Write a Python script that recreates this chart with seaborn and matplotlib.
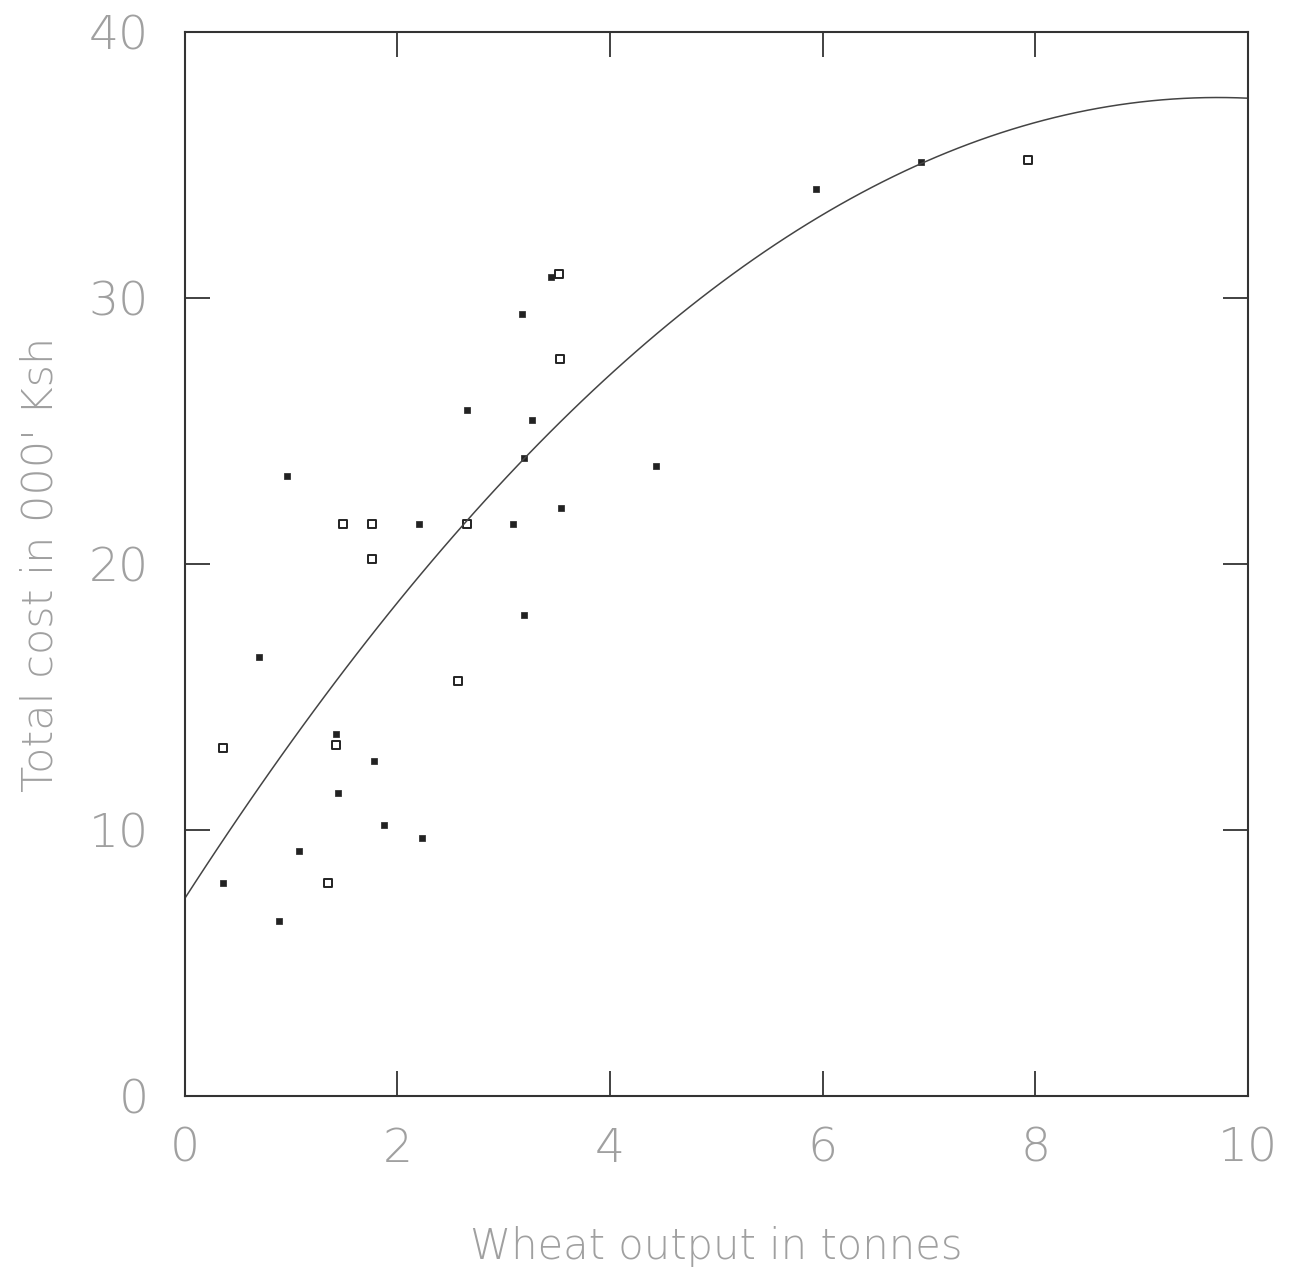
import numpy as np
import pandas as pd
import matplotlib
matplotlib.use("Agg")
import matplotlib.pyplot as plt
import seaborn as sns

open_x = [0.36, 1.35, 1.42, 1.49, 1.76, 1.76, 2.57, 2.65, 3.52, 3.53, 7.93]
open_y = [13.1, 8.0, 13.2, 21.5, 21.5, 20.2, 15.6, 21.5, 30.9, 27.7, 35.2]

filled_x = [0.36, 0.70, 0.96, 0.89, 1.07, 1.42, 1.44, 1.78, 1.87, 2.20, 2.23,
            2.65, 3.09, 3.17, 3.19, 3.19, 3.27, 3.44, 3.54, 4.43, 5.94, 6.92]
filled_y = [8.0, 16.5, 23.3, 6.6, 9.2, 13.6, 11.4, 12.6, 10.2, 21.5, 9.7,
            25.8, 21.5, 29.4, 24.0, 18.1, 25.4, 30.8, 22.1, 23.7, 34.1, 35.1]

# Fitted cost curve
curve_x = [0, 1, 2, 3, 4, 5, 6, 7, 8, 9, 10]
curve_y = [7.4, 13.3, 18.6, 23.2, 27.1, 30.4, 33.1, 35.2, 36.6, 37.4, 37.5]

x_ticks = [0, 2, 4, 6, 8, 10]
y_ticks = [0, 10, 20, 30, 40]

sns.set_theme(style="white")
plt.rcParams['font.family'] = ['DejaVu Sans']

fig = plt.figure(figsize=(12.92, 12.79), dpi=100)
ax = fig.add_axes([0.143, 0.143, 0.823, 0.832])

df_open = pd.DataFrame({"x": open_x, "y": open_y})
df_filled = pd.DataFrame({"x": filled_x, "y": filled_y})
df_curve = pd.DataFrame({"x": curve_x, "y": curve_y})

# smooth quadratic through the read curve values
sns.regplot(data=df_curve, x="x", y="y", order=2, ci=None, scatter=False,
            truncate=True, line_kws=dict(color="#444444", lw=1.1), ax=ax)

sns.scatterplot(data=df_open, x="x", y="y", marker="s", s=28,
                facecolor="white", edgecolor="#222222", linewidth=1.4, ax=ax)
sns.scatterplot(data=df_filled, x="x", y="y", marker="s", s=16,
                color="#222222", edgecolor="#222222", linewidth=0.5, ax=ax)

ax.set_xlim(0, 10)
ax.set_ylim(0, 40)
ax.set_xticks(x_ticks)
ax.set_yticks(y_ticks)
ax.set_xticklabels([str(t) for t in x_ticks])
ax.set_yticklabels([str(t) for t in y_ticks])

for s in ax.spines.values():
    s.set_visible(True)
    s.set_color("#333333")
    s.set_linewidth(1.5)

ax.tick_params(axis="both", which="both", direction="in", length=18, width=1.3,
               color="#333333", top=True, right=True, bottom=True, left=True,
               labelsize=34, labelcolor="#a0a0a0")
ax.tick_params(axis="x", pad=22)
ax.tick_params(axis="y", pad=26)
for lab in ax.get_xticklabels() + ax.get_yticklabels():
    lab.set_fontweight("light")

ax.set_xlabel("Wheat output in tonnes", fontsize=30, color="#a0a0a0",
              labelpad=40, fontweight="light")
ax.set_ylabel("Total cost in 000' Ksh", fontsize=31, color="#a0a0a0",
              labelpad=20, fontweight="light")

fig.savefig("out.png", dpi=100, facecolor="white")
